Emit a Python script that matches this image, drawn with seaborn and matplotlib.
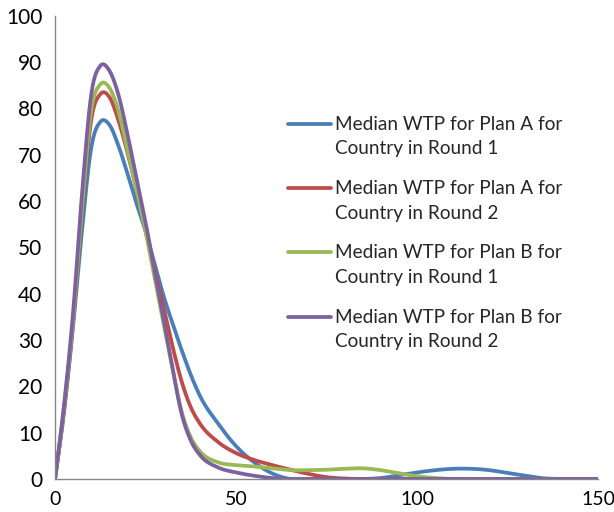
import numpy as np
import pandas as pd
import matplotlib
matplotlib.use("Agg")
import matplotlib.pyplot as plt
from matplotlib.lines import Line2D
import seaborn as sns

# Data
x_vals = [0, 2.5, 5, 7.5, 10, 12.5, 15, 17.5, 20, 22.5, 25, 27.5, 30, 32.5, 35, 37.5,
          40, 45, 50, 55, 60, 65, 70, 75, 80, 85, 90, 95, 100, 105, 110, 115, 120,
          125, 130, 135, 140, 145, 150]
plan_a_round1 = [0, 14.5, 33, 54, 71.5, 77.1, 76.5, 72, 66, 59.5, 53.5, 46.5, 39.5, 33.5, 27.8, 22.5,
                 18, 12, 7.1, 3.6, 1.2, 0, 0, 0, 0, 0, 0.2, 0.8, 1.4, 1.9, 2.2, 2.2, 1.9,
                 1.3, 0.7, 0.15, 0, 0, 0]
plan_a_round2 = [0, 15, 34, 58, 77.5, 83.1, 82.5, 77.5, 70.5, 62.5, 54, 45.5, 37, 28.5, 21, 15.5,
                 12, 8, 5.6, 4.1, 3.0, 2.0, 1.1, 0.4, 0.1, 0, 0, 0, 0, 0, 0, 0, 0,
                 0, 0, 0, 0, 0, 0]
plan_b_round1 = [0, 15.5, 34.5, 59, 79.5, 85.2, 84.5, 79.5, 71, 62.5, 53.5, 43.5, 33.5, 23.5, 14.5, 9,
                 6, 3.6, 3.0, 2.7, 2.3, 1.9, 1.9, 2.0, 2.2, 2.3, 1.9, 1.2, 0.6, 0.2, 0, 0, 0,
                 0, 0, 0, 0, 0, 0]
plan_b_round2 = [0, 16, 36, 62, 83, 89.2, 88.2, 83, 74.5, 65, 55.5, 45, 34.5, 23.7, 14, 8.3,
                 5.2, 2.5, 1.4, 0.7, 0.2, 0, 0, 0, 0, 0, 0, 0, 0, 0, 0, 0, 0,
                 0, 0, 0, 0, 0, 0]
series_names = [
    "Median WTP for Plan A for\nCountry in Round 1",
    "Median WTP for Plan A for\nCountry in Round 2",
    "Median WTP for Plan B for\nCountry in Round 1",
    "Median WTP for Plan B for\nCountry in Round 2",
]
colors = ["#4A7EBB", "#BE4B48", "#98B954", "#7D60A0"]
x_ticks = [0, 50, 100, 150]
y_ticks = list(range(0, 101, 10))


def smooth(xs, ys, n=24):
    """Cubic Hermite rendering of a smoothed line (like a spreadsheet's smoothed line)."""
    xs = np.asarray(xs, float)
    ys = np.asarray(ys, float)
    h = np.diff(xs)
    d = np.diff(ys) / h
    m = np.empty_like(ys)
    m[0], m[-1] = d[0], d[-1]
    m[1:-1] = (d[:-1] * h[1:] + d[1:] * h[:-1]) / (h[:-1] + h[1:])
    ox, oy = [], []
    t = np.linspace(0, 1, n, endpoint=False)
    for i in range(len(xs) - 1):
        h00 = 2 * t ** 3 - 3 * t ** 2 + 1
        h10 = t ** 3 - 2 * t ** 2 + t
        h01 = -2 * t ** 3 + 3 * t ** 2
        h11 = t ** 3 - t ** 2
        ox.extend(xs[i] + t * h[i])
        oy.extend(h00 * ys[i] + h10 * h[i] * m[i] + h01 * ys[i + 1] + h11 * h[i] * m[i + 1])
    ox.append(xs[-1]); oy.append(ys[-1])
    return np.array(ox), np.array(oy)


frames = []
for name, ys in zip(series_names, [plan_a_round1, plan_a_round2, plan_b_round1, plan_b_round2]):
    sx, sy = smooth(x_vals, ys)
    frames.append(pd.DataFrame({"x": sx, "y": sy, "series": name}))
df = pd.concat(frames, ignore_index=True)

sns.set_style("white")
plt.rcParams["font.family"] = ["Lato", "DejaVu Sans"]

fig = plt.figure(figsize=(6.14, 5.12), dpi=100)
ax = fig.add_axes([0.0896, 0.0645, 0.8844, 0.9045])

sns.lineplot(data=df, x="x", y="y", hue="series", palette=colors, sort=False,
             estimator=None, linewidth=2.7, ax=ax, legend=False)

ax.set_xlim(0, 150)
ax.set_ylim(0, 100)
ax.set_xticks(x_ticks)
ax.set_yticks(y_ticks)
ax.set_xlabel("")
ax.set_ylabel("")
for s in ["top", "right"]:
    ax.spines[s].set_visible(False)
for s in ["left", "bottom"]:
    ax.spines[s].set_color("#868686")
    ax.spines[s].set_linewidth(1.0)
ax.tick_params(axis="both", which="major", direction="out", length=5, width=1,
               color="#868686", labelcolor="black", pad=4)
ax.tick_params(axis="y", labelsize=15)
ax.tick_params(axis="x", labelsize=14)

handles = [Line2D([0], [0], color=c, lw=2.7) for c in colors]
leg = ax.legend(handles, series_names, loc="upper left", bbox_to_anchor=(0.397, 0.821),
                frameon=False, fontsize=13.7, handlelength=2.3, handletextpad=0.2,
                labelspacing=1.2)
for t in leg.get_texts():
    t.set_linespacing(1.53)
# align each handle with the first line of its two-line label
for h in leg.legend_handles:
    yd = h.get_ydata()
    h.set_ydata([v + 9.4 for v in yd])

fig.savefig("out.png", dpi=100)
